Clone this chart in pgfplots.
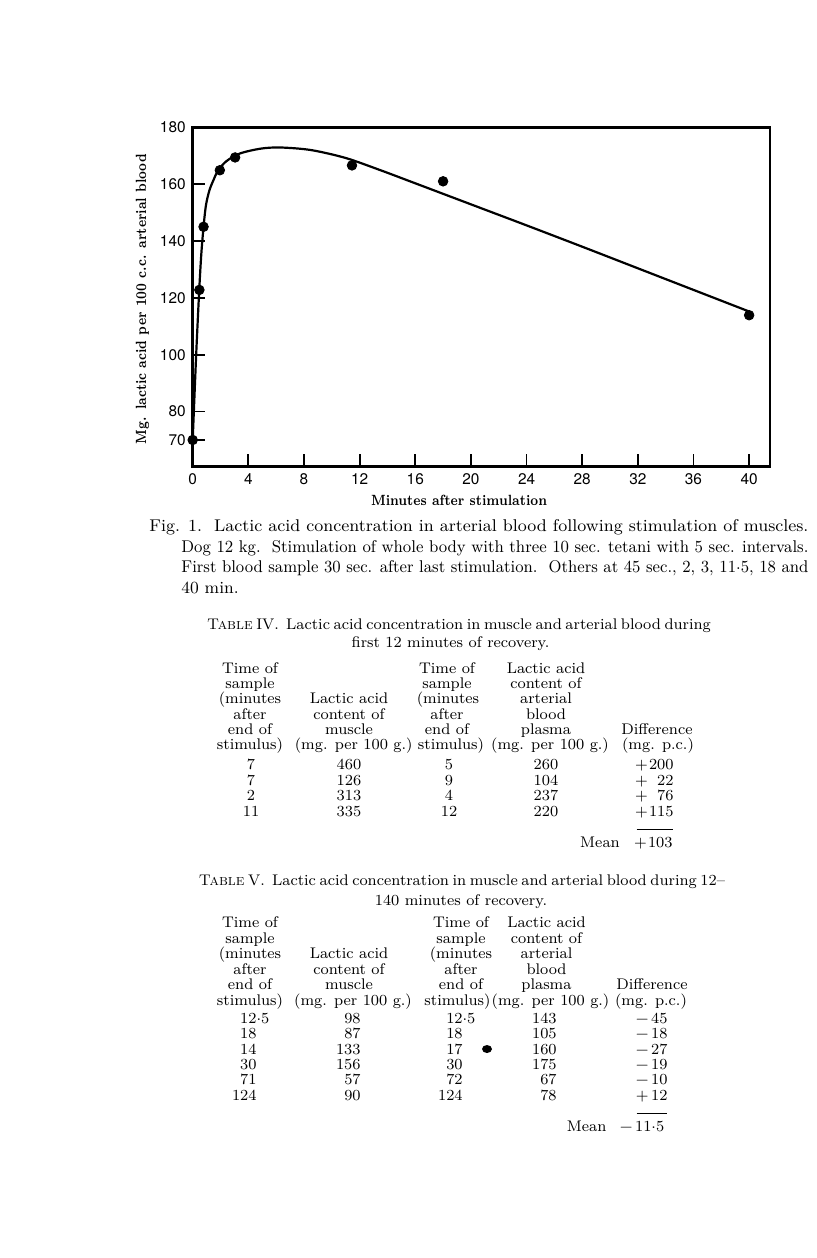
\documentclass[border=0pt]{standalone}
\usepackage{fontspec}
\newfontfamily\heros{TeX Gyre Heros}
\usepackage{pgfplots}
\pgfplotsset{compat=1.18}
\newcommand\capfont{\fontsize{8.5}{10}\selectfont}
\newcommand\tabfont{\fontsize{7.7}{8}\selectfont}
% page cells, positions in pixels of the scanned page
\newcommand\tc[3]{\node[anchor=base,inner sep=0] at (#1,#2) {#3};}
\newcommand\tr[3]{\node[anchor=base east,inner sep=0] at (#1,#2) {#3};}
\newcommand\dt{\raisebox{0.38ex}{.}}
\newcommand\fit[2]{\resizebox{#1}{\height}{#2}}
\begin{document}
\begin{tikzpicture}
\fill[white] (0,0) rectangle (408pt,-629pt);
\path[use as bounding box] (0,0) rectangle (408pt,-629pt);

\begin{axis}[at={(96.35pt,-233.35pt)},anchor=south west,
  width=288.65pt,height=169.7pt,scale only axis,
  xmin=0,xmax=41.5,ymin=60.6,ymax=180,
  xtick={0,4,...,40},ytick={70,80,100,120,140,160,180},
  tick pos=left,tick align=inside,major tick length=6.3pt,
  tick style={line width=0.9pt,black},
  axis line style={line width=1.3pt},
  ticklabel style={font=\heros\fontsize{7.7}{8}\selectfont},
  /pgf/number format/assume math mode=true,
  clip=false]
\addplot[black,line width=1.1pt,smooth,tension=0.5] coordinates {
 (0,70)(0.25,100)(0.47,122.8)(0.62,135.5)(0.78,145)(0.95,152.5)(1.2,157.8)
 (1.5,161.5)(1.8,164.6)(2.4,168)(3.4,170.8)(4.9,172.5)(6.3,172.9)(8.5,172)
 (11,169.2)(13.5,164.9)(16,160.3)(20,152.9)(24,145.5)
 (28,138)(32,130.4)(36,122.8)(40,115.2)};
\addplot[only marks,mark=*,mark size=2.4pt,black] coordinates {
 (0,70)(0.48,122.8)(0.78,145)(1.95,164.9)(3.05,169.4)(11.45,166.6)(18,161)(40,113.9)};
\end{axis}

\begin{scope}[x=0.5pt,y=-0.5pt]
\node[rotate=90,inner sep=0,font=\bfseries\fontsize{7.4}{8}\selectfont] at (142.5,299) {\fit{145pt}{Mg. lactic acid per 100 c.c. arterial blood}};
\node[inner sep=0,font=\bfseries\fontsize{7.4}{8}\selectfont] at (459,500) {\fit{88pt}{Minutes after stimulation}};

\begin{scope}[every node/.style={font=\capfont}]
\node[anchor=base west,inner sep=0] at (149,531.5) {\fit{329.5pt}{Fig. 1.\ \ Lactic acid concentration in arterial blood following stimulation of muscles.}};
\node[anchor=base west,inner sep=0] at (181,552) {\fit{313.5pt}{Dog 12 kg.\ \ Stimulation of whole body with three 10 sec. tetani with 5 sec. intervals.}};
\node[anchor=base west,inner sep=0] at (181,572.5) {\fit{313.5pt}{First blood sample 30 sec. after last stimulation.\ \ Others at 45 sec., 2, 3, 11\dt 5, 18 and}};
\node[anchor=base west,inner sep=0] at (181,593) {40 min.};
\end{scope}

\begin{scope}[every node/.style={font=\tabfont}]
% Table IV
\tc{458}{629.5}{\makebox[251pt][s]{\textsc{Table} IV.\ \ Lactic acid concentration in muscle and arterial blood during}}
\tc{450.6}{647.5}{first 12 minutes of recovery.}
\tc{250}{673.3}{Time of}\tc{250}{688.6}{sample}\tc{250}{703.9}{(minutes}
\tc{250}{719.2}{after}\tc{250}{734.5}{end of}\tc{250}{749.8}{stimulus)}
\tc{349}{703.9}{Lactic acid}\tc{349}{719.2}{content of}\tc{349}{734.5}{muscle}
\tc{353.7}{749.8}{(mg. per 100 g.)}
\tc{447}{673.3}{Time of}\tc{447}{688.6}{sample}\tc{448}{703.9}{(minutes}
\tc{447}{719.2}{after}\tc{447}{734.5}{end of}\tc{451}{749.8}{stimulus)}
\tc{546}{673.3}{Lactic acid}\tc{546}{688.6}{content of}\tc{546}{703.9}{arterial}
\tc{546}{719.2}{blood}\tc{546}{734.5}{plasma}\tc{550}{749.8}{(mg. per 100 g.)}
\tc{657}{734.5}{Difference}\tc{658}{749.8}{(mg. p.c.)}
\tc{251}{769}{7}\tc{251}{785}{7}\tc{251}{800.5}{2}\tc{251}{816}{11}
\tc{349}{769}{460}\tc{349}{785}{126}\tc{349}{800.5}{313}\tc{349}{816}{335}
\tc{449}{769}{5}\tc{449}{785}{9}\tc{449}{800.5}{4}\tc{449}{816}{12}
\tc{546}{769}{260}\tc{546}{785}{104}\tc{546}{800.5}{237}\tc{546}{816}{220}
\tr{674}{769}{+\,\makebox[1.5em][r]{200}}
\tr{674}{785}{+\,\makebox[1.5em][r]{22}}
\tr{674}{800.5}{+\,\makebox[1.5em][r]{76}}
\tr{674}{816}{+\,\makebox[1.5em][r]{115}}
\draw[line width=0.5pt] (636.5,829.3) -- (673,829.3);
\tc{600}{847.3}{Mean}
\tr{673}{847.3}{+\,\makebox[1.5em][r]{103}}

% Table V
\tc{458.4}{885.7}{\makebox[259.6pt][s]{\textsc{Table} V.\ \ Lactic acid concentration in muscle and arterial blood during 12–}}
\tc{461}{905.7}{140 minutes of recovery.}
\tc{250}{927.8}{Time of}\tc{250}{943.3}{sample}\tc{250}{958.8}{(minutes}
\tc{250}{974.3}{after}\tc{250}{989.8}{end of}\tc{250}{1005.3}{stimulus)}
\tc{349}{958.8}{Lactic acid}\tc{349}{974.3}{content of}\tc{349}{989.8}{muscle}
\tc{353}{1005.3}{(mg. per 100 g.)}
\tc{461}{927.8}{Time of}\tc{461}{943.3}{sample}\tc{461}{958.8}{(minutes}
\tc{461}{974.3}{after}\tc{461}{989.8}{end of}\tc{457.5}{1005.3}{stimulus)}
\tc{546.5}{927.8}{Lactic acid}\tc{546.5}{943.3}{content of}\tc{546.5}{958.8}{arterial}
\tc{546.5}{974.3}{blood}\tc{546.5}{989.8}{plasma}\tc{550.5}{1005.3}{(mg. per 100 g.)}
\tc{652}{989.8}{Difference}\tc{651}{1005.3}{(mg. p.c.)}
\tr{257}{1023.5}{12\rlap{\dt 5}}\tr{257}{1038.8}{18}\tr{257}{1054.1}{14}
\tr{257}{1069.4}{30}\tr{257}{1084.7}{71}\tr{257}{1100}{124}
\tr{361}{1023.5}{98}\tr{361}{1038.8}{87}\tr{361}{1054.1}{133}
\tr{361}{1069.4}{156}\tr{361}{1084.7}{57}\tr{361}{1100}{90}
\tr{463}{1023.5}{12\rlap{\dt 5}}\tr{463}{1038.8}{18}\tr{463}{1054.1}{17}
\tr{463}{1069.4}{30}\tr{463}{1084.7}{72}\tr{463}{1100}{124}
\tr{557}{1023.5}{143}\tr{557}{1038.8}{105}\tr{557}{1054.1}{160}
\tr{557}{1069.4}{175}\tr{557}{1084.7}{67}\tr{557}{1100}{78}
\tr{668}{1023.5}{−\,45}\tr{668}{1038.8}{−\,18}\tr{668}{1054.1}{−\,27}
\tr{668}{1069.4}{−\,19}\tr{668}{1084.7}{−\,10}\tr{668}{1100}{+\,12}
\draw[line width=0.5pt] (636.5,1113.3) -- (667,1113.3);
\tc{586.6}{1131.5}{Mean}
\tr{664.6}{1131.5}{−\,11\dt 5}
\end{scope}
\fill[black] (487,1049) ellipse (5 and 4);
\end{scope}
\end{tikzpicture}
\end{document}
